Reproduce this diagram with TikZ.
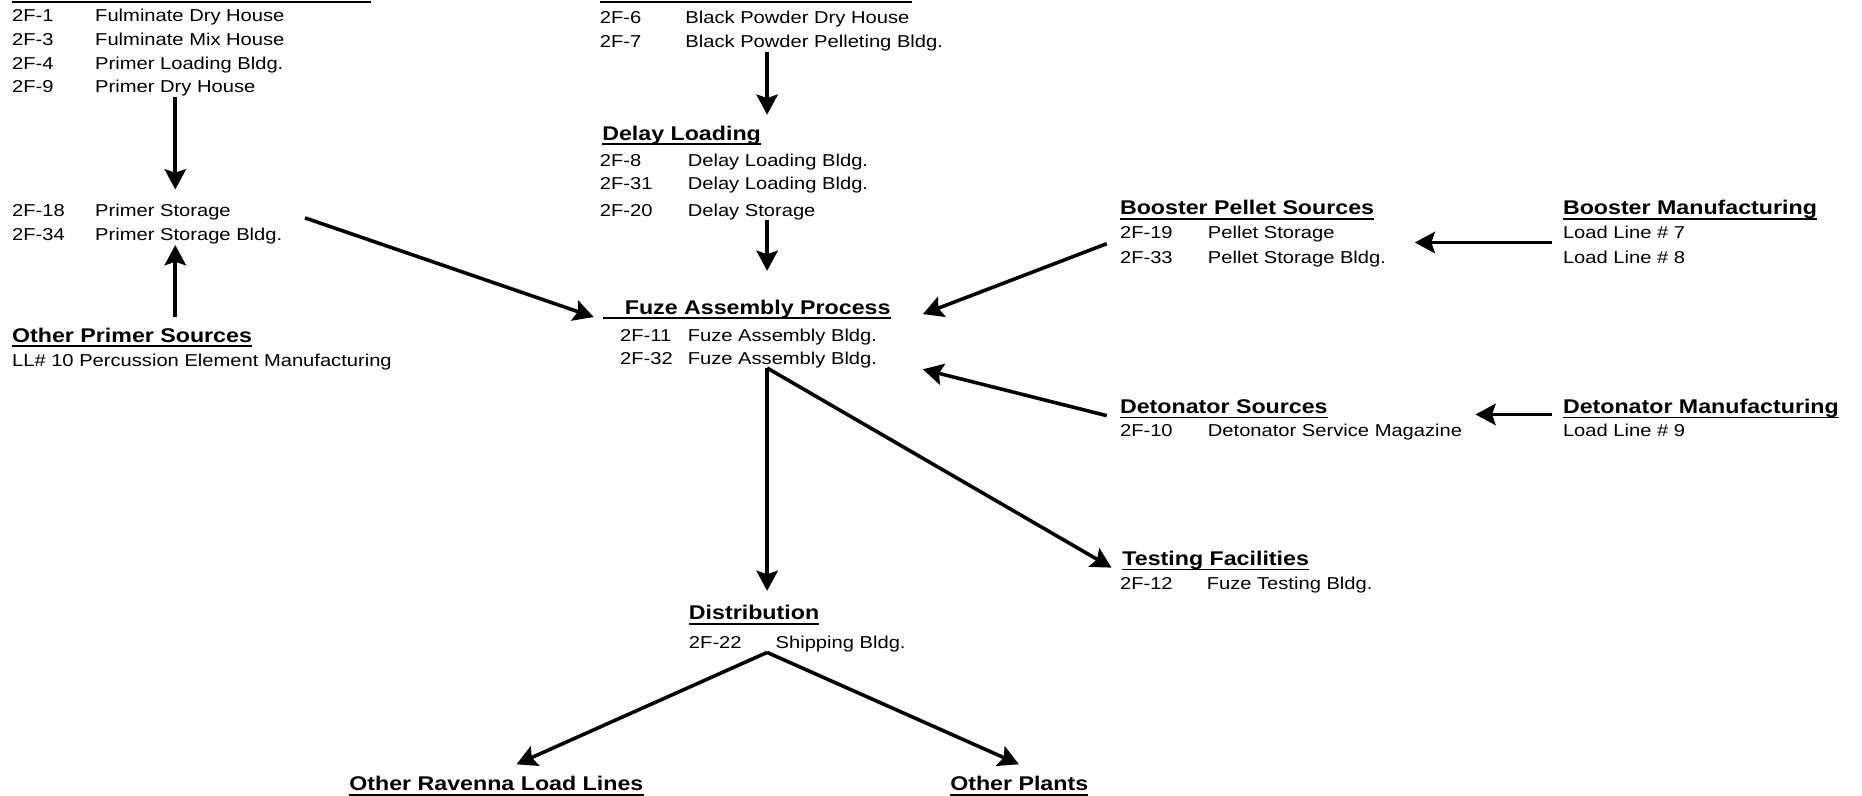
\documentclass[tikz,border=0pt]{standalone}
\usepackage{fontspec}
\setmainfont[FakeStretch=1.17]{Liberation Sans}
\usetikzlibrary{arrows.meta,calc}
\newcommand\rowfont{\fontsize{14.5}{17}\selectfont}
\newcommand\headfont{\fontsize{16.7}{20}\selectfont\bfseries}

\begin{document}
\begin{tikzpicture}[x=1pt,y=-1pt,
    row/.style={font=\rowfont,anchor=base west,text height=10.5pt,text depth=3pt},
    head/.style={font=\headfont,anchor=base west,text height=12.2pt,text depth=3.5pt},
    flow/.style={line width=3pt,-{Stealth[length=17pt,width=18pt,inset=3pt]}},
    uline/.style={line width=1.4pt}]
            \tikzstyle{every node}+=[inner sep=0pt]
            \useasboundingbox (0,0) rectangle (1568,670.3);
            \coordinate (spine) at (646,0);
                % primer line (heading cut off at the top)
                \draw [uline] (10,1.5) -- (312,1.5);
                \node [row] (id1) at (10,18.2) {2F-1};
                \node [row] (n1) at (80,18.2) {Fulminate Dry House};
                \node [row] (id3) at (10,38.2) {2F-3};
                \node [row] (n3) at (80,38.2) {Fulminate Mix House};
                \node [row] (id4) at (10,58.2) {2F-4};
                \node [row] (n4) at (80,58.2) {Primer Loading Bldg.};
                \node [row] (id9) at (10,78.2) {2F-9};
                \node [row] (n9) at (80,78.2) {Primer Dry House};
                \node [row] (id18) at (10,182.2) {2F-18};
                \node [row] (n18) at (80,182.2) {Primer Storage};
                \node [row] (id34) at (10,202.2) {2F-34};
                \node [row] (n34) at (80,202.2) {Primer Storage Bldg.};
                \node [head] (ops) at (10,288) {Other Primer Sources};
                \node [row] (ll10) at (10,309) {LL\# 10 Percussion Element Manufacturing};
                % black powder and delay
                \draw [uline] (505,1.5) -- (768,1.5);
                \node [row] (id6) at (505,20.2) {2F-6};
                \node [row] (n6) at (577,20.2) {Black Powder Dry House};
                \node [row] (id7) at (505,40.2) {2F-7};
                \node [row] (n7) at (577,40.2) {Black Powder Pelleting Bldg.};
                \node [head] (dl) at (507,118) {Delay Loading};
                \node [row] (id8) at (505,140.2) {2F-8};
                \node [row] (n8) at (579,140.2) {Delay Loading Bldg.};
                \node [row] (id31) at (505,159.2) {2F-31};
                \node [row] (n31) at (579,159.2) {Delay Loading Bldg.};
                \node [row] (id20) at (505,182.2) {2F-20};
                \node [row] (n20) at (579,182.2) {Delay Storage};
                % fuze assembly
                \node [head] (fa) at (526,264.5) {Fuze Assembly Process};
                \node [row] (id11) at (522,287.2) {2F-11};
                \node [row] (n11) at (579,287.2) {Fuze Assembly Bldg.};
                \node [row] (id32) at (522,306.7) {2F-32};
                \node [row] (n32) at (579,306.7) {Fuze Assembly Bldg.};
                % distribution
                \node [head] (dist) at (580,522) {Distribution};
                \node [row] (id22) at (580,546.2) {2F-22};
                \node [row] (n22) at (653,546.2) {Shipping Bldg.};
                \node [head] (orl) at (294,666) {Other Ravenna Load Lines};
                \node [head] (op) at (800,666) {Other Plants};
                % booster and detonator
                \node [head] (bps) at (943,181) {Booster Pellet Sources};
                \node [row] (id19) at (943,201.2) {2F-19};
                \node [row] (n19) at (1017,201.2) {Pellet Storage};
                \node [row] (id33) at (943,222.2) {2F-33};
                \node [row] (n33) at (1017,222.2) {Pellet Storage Bldg.};
                \node [head] (bm) at (1316,181) {Booster Manufacturing};
                \node [row] (ll7) at (1316,201.2) {Load Line \# 7};
                \node [row] (ll8) at (1316,222.2) {Load Line \# 8};
                \node [head] (dsrc) at (943,348) {Detonator Sources};
                \node [row] (id10) at (943,367.2) {2F-10};
                \node [row] (n10) at (1017,367.2) {Detonator Service Magazine};
                \node [head] (dm) at (1316,348) {Detonator Manufacturing};
                \node [row] (ll9) at (1316,367.2) {Load Line \# 9};
                \node [head] (tf) at (945,476) {Testing Facilities};
                \node [row] (id12) at (943,496.2) {2F-12};
                \node [row] (n12) at (1016,496.2) {Fuze Testing Bldg.};
                % underlines
                \foreach \h in {ops,dl,dist,orl,op,bps,bm,dsrc,dm,tf}
                    \draw [uline] ([yshift=-3.5pt]\h.base west) -- ([yshift=-3.5pt]\h.base east);
                \draw [uline] ([shift={(-18pt,-3.5pt)}]fa.base west) -- ([yshift=-3.5pt]fa.base east);
                % flows
                \draw [flow, shorten >=12pt] (n9.south) -- (n9.south |- n18.north);
                \draw [flow, shorten <=9pt, shorten >=1pt] (ops.north -| n9.south) -- (n34.south -| n9.south);
                \draw [flow] ([shift={(19pt,8pt)}]n34.north east) -- ([shift={(-26pt,-2.5pt)}]fa.base west);
                \draw [flow, shorten >=9pt] (n7.south -| spine) -- (dl.north -| spine);
                \draw [flow, shorten >=24pt] (n20.south -| spine) -- (fa.north -| spine);
                \draw [flow] ([shift={(-11pt,-4pt)}]id19.base west) -- ([xshift=27pt]fa.base east);
                \draw [flow] ([shift={(-11pt,-2pt)}]dsrc.base west) -- ([shift={(27pt,-46.5pt)}]fa.base east);
                \draw [flow] ($(ll7.base west)+(-9pt,-3pt)$) -- ($(ll7.base west -| n33.east)+(24pt,-3pt)$);
                \draw [flow] ($(dm.base west)+(-9pt,-1pt)$) -- ($(dm.base west -| n10.east)+(11pt,-1pt)$);
                \draw [flow, shorten >=12pt] (n32.south -| spine) -- (dist.north -| spine);
                \draw [flow] (n32.south -| spine) -- ([shift={(-9pt,-2pt)}]tf.base west);
                \draw [flow] (n22.south -| spine) -- ([shift={(141pt,10pt)}]orl.north west);
                \draw [flow] (n22.south -| spine) -- ([shift={(58pt,10pt)}]op.north west);
            \end{tikzpicture}
\end{document}
